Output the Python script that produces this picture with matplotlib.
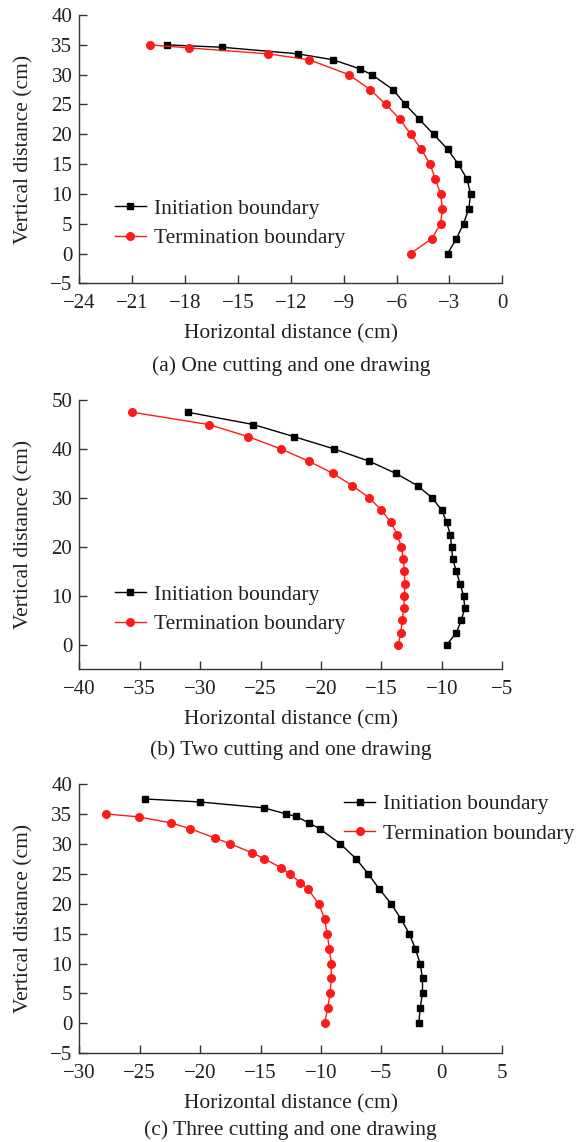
import matplotlib
matplotlib.use("Agg")
import matplotlib.pyplot as plt

plt.rcParams['font.family'] = ['Liberation Serif', 'DejaVu Serif']
plt.rcParams['axes.unicode_minus'] = True

TXT = "#231f20"

# -----------------------------
# data (cm)
# -----------------------------
a_init_x = [-19.0, -15.9, -11.6, -9.6, -8.1, -7.4, -6.2, -5.5, -4.7, -3.9,
            -3.1, -2.5, -2.0, -1.8, -1.9, -2.2, -2.6, -3.1]
a_init_y = [35, 34.6, 33.5, 32.5, 31, 30, 27.5, 25, 22.5, 20,
            17.5, 15, 12.5, 10, 7.5, 5, 2.5, 0]
a_term_x = [-20.0, -17.8, -13.3, -10.95, -8.7, -7.5, -6.6, -5.8, -5.2, -4.6,
            -4.1, -3.8, -3.5, -3.4, -3.5, -4.0, -5.2]
a_term_y = [35, 34.5, 33.5, 32.5, 30, 27.5, 25, 22.5, 20, 17.5,
            15, 12.5, 10, 7.5, 5, 2.5, 0]

b_init_x = [-31.0, -25.6, -22.2, -18.9, -16.0, -13.8, -12.0, -10.8, -10.0, -9.6,
            -9.3, -9.2, -9.1, -8.8, -8.5, -8.2, -8.1, -8.4, -8.8, -9.6]
b_init_y = [47.5, 45, 42.5, 40, 37.5, 35, 32.5, 30, 27.5, 25,
            22.5, 20, 17.5, 15, 12.5, 10, 7.5, 5, 2.5, 0]
b_term_x = [-35.6, -29.3, -26.0, -23.3, -21.0, -19.0, -17.4, -16.0, -15.0, -14.2,
            -13.7, -13.35, -13.2, -13.1, -13.07, -13.1, -13.16, -13.27, -13.4, -13.6]
b_term_y = [47.5, 45, 42.5, 40, 37.5, 35, 32.5, 30, 27.5, 25,
            22.5, 20, 17.5, 15, 12.5, 10, 7.5, 5, 2.5, 0]

c_init_x = [-24.6, -20.05, -14.7, -12.9, -12.1, -11.0, -10.1, -8.4, -7.1, -6.1,
            -5.2, -4.2, -3.4, -2.7, -2.2, -1.8, -1.6, -1.6, -1.8, -1.9]
c_init_y = [37.5, 37, 36, 35, 34.6, 33.5, 32.5, 30, 27.5, 25,
            22.5, 20, 17.5, 15, 12.5, 10, 7.5, 5, 2.5, 0]
c_term_x = [-27.8, -25.1, -22.4, -20.8, -18.8, -17.5, -15.7, -14.7, -13.3, -12.6,
            -11.7, -11.1, -10.2, -9.7, -9.5, -9.3, -9.15, -9.15, -9.25, -9.45, -9.7]
c_term_y = [35, 34.5, 33.5, 32.5, 31, 30, 28.5, 27.5, 26, 25,
            23.5, 22.5, 20, 17.5, 15, 12.5, 10, 7.5, 5, 2.5, 0]

captions = ["(a) One cutting and one drawing",
            "(b) Two cutting and one drawing",
            "(c) Three cutting and one drawing"]

panels = [
    dict(init=(a_init_x, a_init_y), term=(a_term_x, a_term_y),
         xlim=(-24, 0), xticks=range(-24, 1, 3),
         ylim=(-5, 40), yticks=range(-5, 41, 5),
         rect=[0.1367, 0.7519, 0.7293, 0.2349], leg=(0.084, 0.223), cap_y=366),
    dict(init=(b_init_x, b_init_y), term=(b_term_x, b_term_y),
         xlim=(-40, -5), xticks=range(-40, -4, 5),
         ylim=(-5, 50), yticks=range(0, 51, 10),
         rect=[0.1367, 0.4139, 0.7293, 0.2358], leg=(0.084, 0.222), cap_y=750),
    dict(init=(c_init_x, c_init_y), term=(c_term_x, c_term_y),
         xlim=(-30, 5), xticks=range(-30, 6, 5),
         ylim=(-5, 40), yticks=range(-5, 41, 5),
         rect=[0.1367, 0.0777, 0.7293, 0.2358], leg=(0.626, 0.870), cap_y=1130),
]

fig = plt.figure(figsize=(5.8, 11.42), dpi=100)

for p, cap in zip(panels, captions):
    ax = fig.add_axes(p["rect"])
    ax.plot(*p["init"], color="black", marker="s", markersize=5, lw=1.0,
            label="Initiation boundary")
    ax.plot(*p["term"], color="#ff1a1a", marker="o", markersize=5.5, lw=1.0,
            label="Termination boundary")

    ax.set_xlim(*p["xlim"])
    ax.set_ylim(*p["ylim"])
    ax.set_xticks(list(p["xticks"]))
    ax.set_yticks(list(p["yticks"]))

    ax.spines["top"].set_visible(False)
    ax.spines["right"].set_visible(False)
    for s in ("left", "bottom"):
        ax.spines[s].set_color("#333333")
        ax.spines[s].set_linewidth(1.0)
    ax.tick_params(direction="in", length=6, width=1.0, colors="#333333",
                   labelsize=15, labelcolor=TXT)
    ax.tick_params(axis="x", pad=8)
    ax.tick_params(axis="y", pad=5)

    ax.set_xlabel("Horizontal distance (cm)", fontsize=15.5, color=TXT)
    ax.set_ylabel("Vertical distance (cm)", fontsize=15.5, color=TXT)
    ax.xaxis.set_label_coords(0.5, -0.152)
    ax.yaxis.set_label_coords(-0.109, 0.5)

    ax.legend(loc="center left", bbox_to_anchor=p["leg"], frameon=False,
              fontsize=15.5, numpoints=1, handlelength=1.45, handletextpad=0.35,
              labelspacing=0.45, borderpad=0, borderaxespad=0, labelcolor=TXT)

    fig.text(0.5014, 1 - p["cap_y"] / 1142, cap, ha="center", va="center",
             fontsize=15.5, color=TXT)

fig.savefig("out.png", dpi=100)
